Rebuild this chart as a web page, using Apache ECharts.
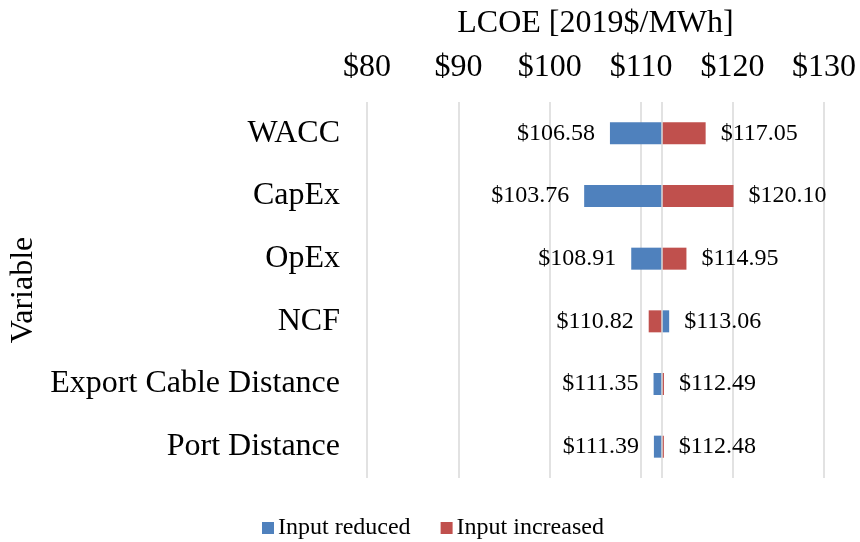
<!DOCTYPE html>
<html>
<head>
<meta charset="utf-8">
<script src="https://cdn.jsdelivr.net/npm/echarts@6/dist/echarts.min.js"></script>
<style>
  html, body { margin: 0; padding: 0; background: #fff; }
  #chart { width: 860px; height: 542px; }
</style>
</head>
<body>
<div id="chart"></div>
<script>
// Sensitivity of LCOE to each input (tornado chart)
const categories = ['WACC', 'CapEx', 'OpEx', 'NCF', 'Export Cable Distance', 'Port Distance'];
const inputReduced = [106.58, 103.76, 108.91, 113.06, 111.35, 111.39];
const inputIncreased = [117.05, 120.10, 114.95, 110.82, 112.49, 112.48];
const baseLCOE = 112.28;
const lcoeTicks = [80, 90, 100, 110, 120, 130];

const FONT = "'Liberation Serif', 'Times New Roman', serif";
const BLUE = '#4F81BD';
const RED = '#C0504D';
const GRID = '#d9d9d9';

// Each side of a bar runs between the base case and the sensitivity value:
// an invisible offset bar carries the stack up to the left end of the span.
function offsets(vals) { return vals.map(v => Math.min(v, baseLCOE)); }
function spans(vals) {
  return vals.map(v => ({
    value: Math.abs(v - baseLCOE),
    label: { position: v < baseLCOE ? 'left' : 'right' }
  }));
}
const money = v => '$' + v.toFixed(2);

const labelStyle = {
  show: true, distance: 15, color: '#000', fontFamily: FONT, fontSize: 24
};

const chart = echarts.init(document.getElementById('chart'), null, { renderer: 'canvas' });
chart.setOption({
  animation: false,
  backgroundColor: '#fff',
  grid: { left: 367, right: 36, top: 102, bottom: 64, containLabel: false, outerBoundsMode: 'none' },
  legend: {
    data: ['Input reduced', 'Input increased'],
    left: 257, top: 511,
    icon: 'rect', itemWidth: 12, itemHeight: 12, itemGap: 30,
    textStyle: { fontFamily: FONT, fontSize: 24, color: '#000', padding: [0, 0, 0, -1] }
  },
  xAxis: {
    type: 'value', position: 'top',
    min: lcoeTicks[0], max: lcoeTicks[lcoeTicks.length - 1],
    interval: lcoeTicks[1] - lcoeTicks[0],
    name: 'LCOE [2019$/MWh]', nameLocation: 'middle', nameGap: 62,
    nameTextStyle: { fontFamily: FONT, fontSize: 32, color: '#000' },
    axisLine: { show: false }, axisTick: { show: false },
    axisLabel: { formatter: v => '$' + v, fontFamily: FONT, fontSize: 32, color: '#000', margin: 18 },
    splitLine: { show: true, lineStyle: { color: GRID, width: 1.5 } }
  },
  yAxis: {
    type: 'category', inverse: true, data: categories,
    name: 'Variable', nameLocation: 'middle', nameGap: 320, nameRotate: 90,
    nameTextStyle: { fontFamily: FONT, fontSize: 32, color: '#000' },
    axisLine: { show: false }, axisTick: { show: false },
    axisLabel: { fontFamily: FONT, fontSize: 32, color: '#000', margin: 27 }
  },
  series: [
    {
      name: 'offsetReduced', type: 'bar', stack: 'reduced', silent: true,
      barWidth: 22, barGap: '-100%',
      itemStyle: { color: 'rgba(0,0,0,0)' },
      data: offsets(inputReduced)
    },
    {
      name: 'Input reduced', type: 'bar', stack: 'reduced',
      barWidth: 22, barGap: '-100%',
      itemStyle: { color: BLUE },
      label: Object.assign({}, labelStyle, { formatter: p => money(inputReduced[p.dataIndex]) }),
      data: spans(inputReduced),
      markLine: {
        silent: true, symbol: 'none', label: { show: false },
        lineStyle: { color: GRID, width: 1.5, type: 'solid' },
        data: [{ xAxis: baseLCOE }]
      }
    },
    {
      name: 'offsetIncreased', type: 'bar', stack: 'increased', silent: true,
      barWidth: 22, barGap: '-100%',
      itemStyle: { color: 'rgba(0,0,0,0)' },
      data: offsets(inputIncreased)
    },
    {
      name: 'Input increased', type: 'bar', stack: 'increased',
      barWidth: 22, barGap: '-100%',
      itemStyle: { color: RED },
      label: Object.assign({}, labelStyle, { formatter: p => money(inputIncreased[p.dataIndex]) }),
      data: spans(inputIncreased)
    }
  ]
});
</script>
</body>
</html>
